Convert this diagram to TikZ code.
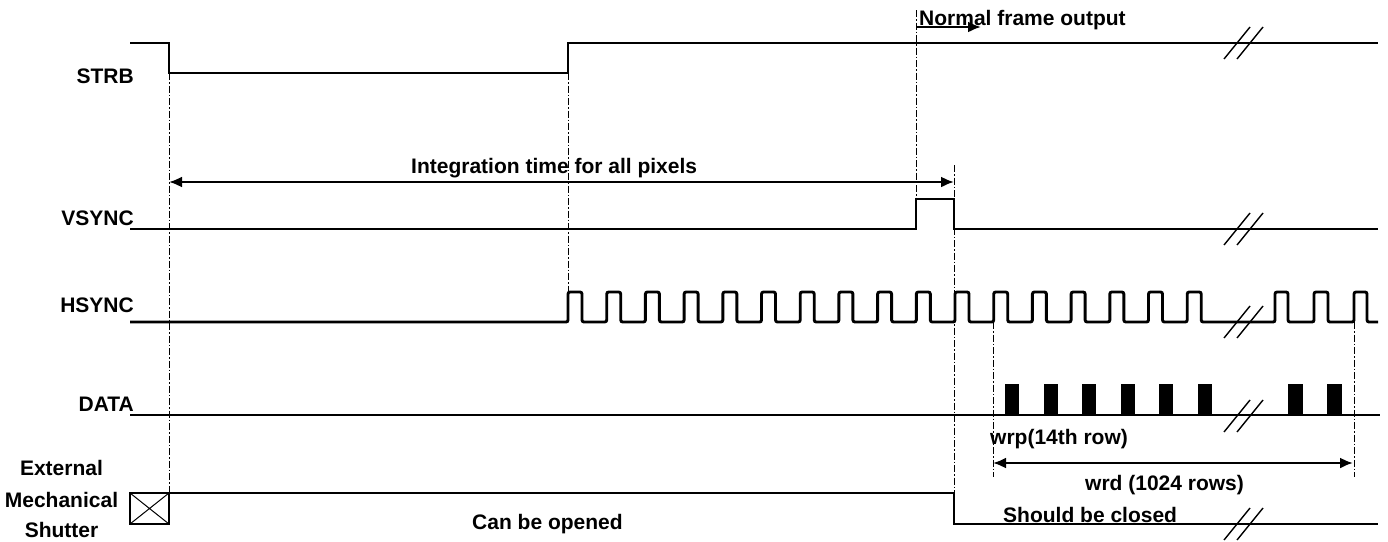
\documentclass[tikz,border=0pt]{standalone}
\usepackage{fontspec}
\setmainfont{Liberation Sans}
\usetikzlibrary{arrows.meta}
\begin{document}
\begin{tikzpicture}[x=1pt,y=-1pt,
  sig/.style={line width=2.9pt, line join=miter},
  pulse/.style={line width=2.9pt, rounded corners=2pt},
  guide/.style={line width=0.9pt, dash pattern=on 7pt off 2pt on 1.5pt off 2pt},
  brk/.style={line width=1.4pt},
  dim/.style={line width=2.2pt, {Latex[length=13pt,width=11pt]}-{Latex[length=13pt,width=11pt]}},
  fwd/.style={line width=2.2pt, -{Latex[length=13pt,width=11pt]}},
  lbl/.style={font=\fontsize{21}{25}\selectfont\bfseries, inner sep=0pt}]
\useasboundingbox (0,0) rectangle (1388,541);

% signal names
\node[lbl, anchor=base east] (strb) at (134,83) {STRB};
\node[lbl, anchor=base east] (vsync) at (134,225) {VSYNC};
\node[lbl, anchor=base east] (hsync) at (134,312) {HSYNC};
\node[lbl, anchor=base east] (data) at (134,411) {DATA};
\node[lbl, anchor=base] (ext1) at (61.5,475) {External};
\node[lbl, anchor=base] (ext2) at (61.5,507) {Mechanical};
\node[lbl, anchor=base] (ext3) at (61.5,537) {Shutter};

% guides
\draw[guide] (169,73) -- (169,493);
\draw[guide] (568,73) -- (568,292);
\draw[guide] (916,10) -- (916,199);
\draw[guide] (954,165) -- (954,493);
\draw[guide] (993,322) -- (993,477);
\draw[guide] (1354,322) -- (1354,477);

% STRB
\draw[sig] (130,43) -- (169,43) -- (169,73) -- (568,73) -- (568,43) -- (1378,43);
% VSYNC
\draw[sig] (130,229) -- (916,229) -- (916,199) -- (954,199) -- (954,229) -- (1378,229);
% HSYNC
\draw[pulse] (130,322)
  foreach \k in {0,...,16} { -- ({568+38.7*\k},322) -- ({568+38.7*\k},292) -- ({582+38.7*\k},292) -- ({582+38.7*\k},322) }
  -- (1275,322) -- (1275,292) -- (1288,292) -- (1288,322)
  -- (1314,322) -- (1314,292) -- (1328,292) -- (1328,322)
  -- (1354,322) -- (1354,292) -- (1367,292) -- (1367,322) -- (1378,322);
% DATA
\draw[sig] (130,415) -- (1380,415);
\foreach \k in {0,...,5} { \fill ({1005+38.6*\k},384) rectangle ({1019+38.6*\k},415); }
\fill (1288,384) rectangle (1303,415);
\fill (1327,384) rectangle (1342,415);
% Shutter
\draw[line width=1.5pt] (130,493) rectangle (169,524);
\draw[line width=1pt] (130,493) -- (169,524) (130,524) -- (169,493);
\draw[sig] (169,493) -- (954,493) -- (954,524) -- (1378,524);

% break marks
\foreach \y in {43,229,322,416,524} {
  \draw[brk] (1224,\y+16) -- (1250,\y-16);
  \draw[brk] (1237,\y+16) -- (1263,\y-16);
}

% dimension arrows
\coordinate (intL) at (169,182);
\coordinate (intR) at (954,182);
\draw[dim] (intL) -- (intR);
\coordinate (wrdL) at (993,463);
\coordinate (wrdR) at (1353,463);
\draw[dim] (wrdL) -- (wrdR);
\coordinate (nfoL) at (916,27);
\coordinate (nfoR) at (981,27);
\draw[fwd] (nfoL) -- (nfoR);

% annotations
\node[lbl, anchor=base west] (integ) at (411,173) {Integration time for all pixels};
\node[lbl, anchor=base west] (nfo) at (919,25) {Normal frame output};
\node[lbl, anchor=base west] (wrp) at (990,444) {wrp(14th row)};
\node[lbl, anchor=base west] (wrd) at (1085,490) {wrd (1024 rows)};
\node[lbl, anchor=base west] (open) at (472,529) {Can be opened};
\node[lbl, anchor=base west] (closed) at (1003,522) {Should be closed};
\end{tikzpicture}
\end{document}
